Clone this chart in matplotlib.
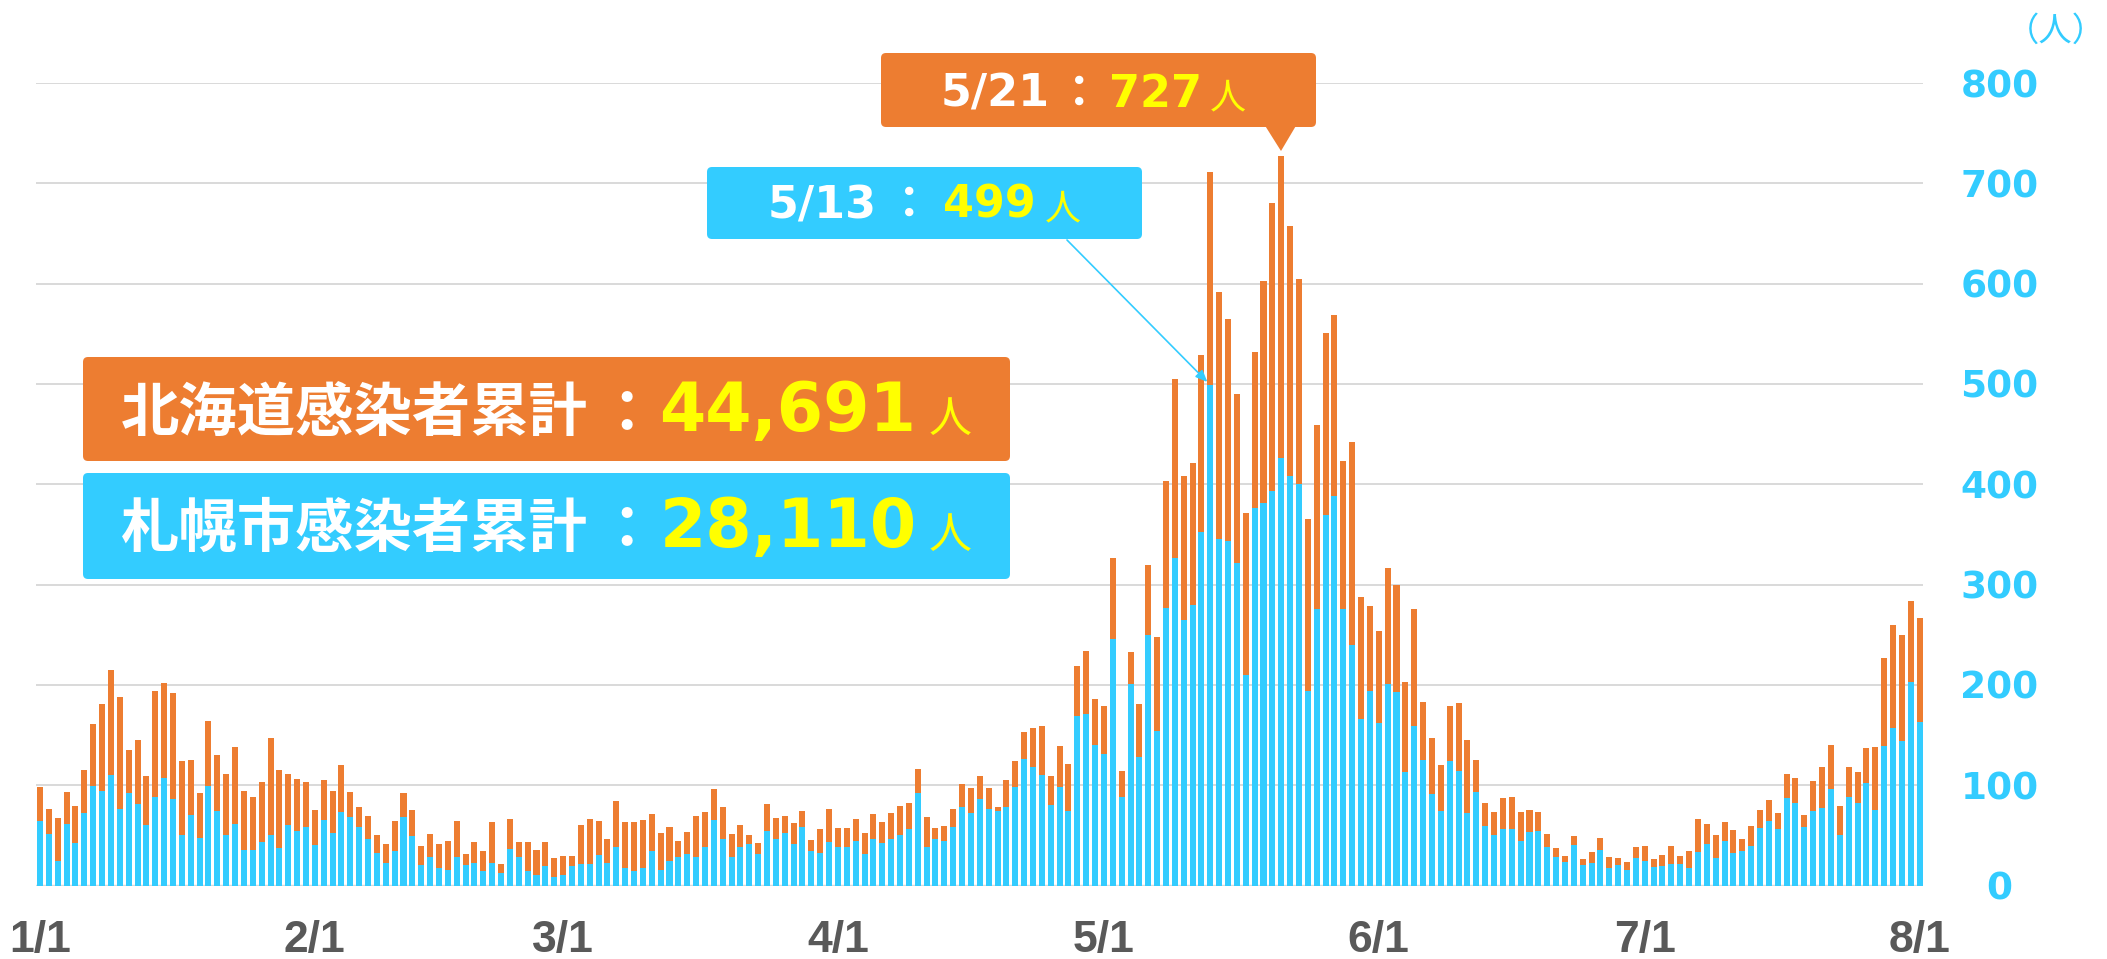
import numpy as np
import pandas as pd
import matplotlib

matplotlib.use("Agg")
import matplotlib.pyplot as plt
from matplotlib.patches import FancyBboxPatch, Polygon


# Daily new cases, 2021-01-01 .. 2021-08-01
HOKKAIDO_TOTAL = [
    # Jan
    98, 76, 67, 93, 79, 115, 161, 181, 215, 188,
    135, 145, 109, 194, 202, 192, 124, 125, 92, 164,
    130, 111, 138, 94, 88, 103, 147, 115, 111, 106, 103,
    # Feb
    75, 105, 94, 120, 93, 78, 69, 50, 41, 64,
    92, 75, 39, 51, 41, 44, 64, 31, 43, 34,
    63, 21, 66, 43, 43, 35, 43, 27,
    # Mar
    29, 29, 60, 66, 64, 46, 84, 63, 63, 65,
    71, 52, 58, 44, 53, 69, 73, 96, 78, 51,
    60, 50, 42, 81, 67, 69, 62, 74, 45, 56, 76,
    # Apr
    57, 57, 66, 52, 71, 63, 72, 79, 82, 116,
    68, 57, 59, 76, 101, 97, 109, 97, 78, 105,
    124, 153, 157, 159, 109, 139, 121, 219, 234, 186,
    # May
    179, 326, 114, 233, 181, 320, 248, 403, 505, 408,
    421, 529, 711, 592, 565, 490, 371, 532, 603, 680,
    727, 657, 605, 365, 459, 551, 569, 423, 442, 288, 279,
    # Jun
    254, 317, 300, 203, 276, 183, 147, 120, 179, 182,
    145, 125, 82, 73, 87, 88, 73, 75, 73, 51,
    37, 29, 49, 26, 33, 47, 28, 27, 23, 38,
    # Jul
    39, 26, 30, 39, 29, 34, 66, 61, 50, 63,
    55, 46, 59, 75, 85, 72, 111, 107, 70, 104,
    118, 140, 79, 118, 113, 137, 138, 227, 260, 250, 284,
    # Aug
    267,
]

SAPPORO = [
    # Jan
    64, 51, 24, 61, 42, 72, 99, 94, 110, 76,
    92, 81, 60, 88, 107, 86, 50, 70, 47, 99,
    74, 50, 61, 35, 35, 43, 50, 37, 60, 54, 58,
    # Feb
    40, 65, 52, 73, 68, 58, 46, 32, 22, 34,
    68, 49, 20, 28, 17, 15, 28, 20, 22, 14,
    22, 12, 36, 28, 14, 10, 19, 8,
    # Mar
    10, 19, 21, 21, 30, 22, 38, 17, 14, 17,
    34, 15, 24, 28, 31, 28, 38, 65, 46, 28,
    38, 41, 31, 54, 46, 52, 41, 58, 34, 32, 43,
    # Apr
    38, 38, 44, 31, 46, 42, 46, 50, 56, 92,
    38, 46, 44, 58, 78, 72, 86, 76, 74, 78,
    98, 126, 118, 110, 80, 98, 74, 169, 171, 140,
    # May
    131, 246, 88, 201, 128, 250, 154, 277, 326, 265,
    280, 352, 499, 345, 343, 321, 210, 376, 381, 393,
    426, 408, 400, 194, 276, 369, 388, 276, 240, 166, 194,
    # Jun
    162, 201, 193, 113, 159, 125, 91, 74, 124, 114,
    72, 93, 59, 50, 56, 56, 44, 53, 54, 38,
    28, 23, 40, 20, 22, 35, 17, 20, 15, 27,
    # Jul
    24, 18, 19, 21, 21, 17, 33, 41, 27, 44,
    32, 34, 39, 57, 64, 56, 87, 82, 58, 74,
    77, 96, 50, 88, 82, 102, 75, 139, 157, 144, 203,
    # Aug
    163,
]

START_DATE = "2021-01-01"
END_DATE = "2021-08-01"
Y_TICKS = [0, 100, 200, 300, 400, 500, 600, 700, 800]

HOKKAIDO_LABEL = "北海道感染者累計"
HOKKAIDO_CUM = "44,691"
SAPPORO_LABEL = "札幌市感染者累計"
SAPPORO_CUM = "28,110"

PEAK_HOKKAIDO_DATE = "5/21"
PEAK_HOKKAIDO_VALUE = 727
PEAK_SAPPORO_DATE = "5/13"
PEAK_SAPPORO_VALUE = 499

CYAN = "#33CCFF"
ORANGE = "#ED7D31"
YELLOW = "#FFFF00"
GRID = "#D9D9D9"
AXIS_TEXT = "#595959"

W, H = 2107, 959
CJK = ["Noto Sans CJK JP", "DejaVu Sans"]
NUM = "DejaVu Sans"


def to_in(xp, yp):
    """pixel coords (origin top-left) -> inches for fig.dpi_scale_trans"""
    return xp / 100, (H - yp) / 100


def add_box(fig, x0, y0, x1, y1, color):
    bx, by = to_in(x0, y1)
    patch = FancyBboxPatch(
        (bx, by), (x1 - x0) / 100, (y1 - y0) / 100,
        boxstyle="round,pad=0,rounding_size=0.05",
        transform=fig.dpi_scale_trans,
        facecolor=color, edgecolor="none", zorder=5,
    )
    fig.add_artist(patch)


def put(fig, xp, yp, s, size, color, family, weight="normal"):
    fig.text(*to_in(xp, yp), s, transform=fig.dpi_scale_trans,
             ha="center", va="baseline", fontsize=size, color=color,
             family=family, fontweight=weight, zorder=6)


def plot_chart(out_path="out.png"):
    dates = pd.date_range(START_DATE, END_DATE, freq="D")
    total = np.array(HOKKAIDO_TOTAL)
    sapporo = np.array(SAPPORO)
    others = total - sapporo
    x = np.arange(len(dates))

    fig = plt.figure(figsize=(W / 100, H / 100), dpi=100)
    fig.patch.set_facecolor("white")

    # axes placed so that 1/1 and 8/1 land where they do in the original
    step = 8.866
    ax = fig.add_axes([36 / W, (H - 885.5) / H, (1923 - 36) / W, (885.5 - 83) / H])
    ax.set_xlim((36 - 40) / step, (1923 - 40) / step)
    ax.set_ylim(0, 800)

    ax.bar(x, sapporo, width=0.68, color=CYAN, linewidth=0, zorder=2)
    ax.bar(x, others, bottom=sapporo, width=0.68, color=ORANGE, linewidth=0, zorder=2)

    for s in ax.spines.values():
        s.set_visible(False)
    ax.grid(axis="y", color=GRID, lw=1.4, zorder=0)
    ax.axhline(0, color=GRID, lw=2.5, zorder=1)
    ax.set_axisbelow(True)

    # y axis on the right, centred labels
    ax.yaxis.tick_right()
    ax.set_yticks(Y_TICKS, labels=[str(v) for v in Y_TICKS],
                  fontsize=27, fontweight="bold", color=CYAN,
                  fontfamily=NUM, ha="center")
    ax.tick_params(axis="y", length=0, pad=55)

    # month starts on x axis
    month_idx = [i for i, d in enumerate(dates) if d.day == 1]
    month_lbl = [f"{dates[i].month}/1" for i in month_idx]
    ax.set_xticks(month_idx, labels=month_lbl, fontsize=32, fontweight="bold",
                  color=AXIS_TEXT, fontfamily="Liberation Sans")
    ax.tick_params(axis="x", length=0, pad=25)

    # unit
    fig.text(*to_in(2056, 31), "（人）", transform=fig.dpi_scale_trans,
             ha="center", va="center", fontsize=24, color=CYAN, family=CJK)

    # cumulative boxes
    add_box(fig, 83, 357, 1010, 461, ORANGE)
    put(fig, 354, 431, HOKKAIDO_LABEL, 42, "white", CJK, "bold")
    put(fig, 627, 431, "：", 42, "white", CJK, "bold")
    put(fig, 788, 431, HOKKAIDO_CUM, 48, YELLOW, NUM, "bold")
    put(fig, 950, 432, "人", 31, YELLOW, CJK)

    add_box(fig, 83, 473, 1010, 579, CYAN)
    put(fig, 354, 547, SAPPORO_LABEL, 42, "white", CJK, "bold")
    put(fig, 627, 547, "：", 42, "white", CJK, "bold")
    put(fig, 788, 547, SAPPORO_CUM, 48, YELLOW, NUM, "bold")
    put(fig, 950, 548, "人", 31, YELLOW, CJK)

    # peak callout: Hokkaido
    add_box(fig, 881, 53, 1316, 127, ORANGE)
    tri = Polygon([to_in(1264, 124), to_in(1297, 124), to_in(1281, 151)],
                  closed=True, transform=fig.dpi_scale_trans,
                  facecolor=ORANGE, edgecolor="none", zorder=5)
    fig.add_artist(tri)
    put(fig, 995, 107, PEAK_HOKKAIDO_DATE, 32, "white", NUM, "bold")
    put(fig, 1079, 107, "：", 32, "white", CJK, "bold")
    put(fig, 1156, 107, str(PEAK_HOKKAIDO_VALUE), 32, YELLOW, NUM, "bold")
    put(fig, 1228, 108, "人", 26, YELLOW, CJK)

    # peak callout: Sapporo
    add_box(fig, 707, 167, 1142, 239, CYAN)
    put(fig, 822, 218, PEAK_SAPPORO_DATE, 32, "white", NUM, "bold")
    put(fig, 909, 218, "：", 32, "white", CJK, "bold")
    put(fig, 989, 218, str(PEAK_SAPPORO_VALUE), 32, YELLOW, NUM, "bold")
    put(fig, 1063, 219, "人", 26, YELLOW, CJK)

    peak_i = int(np.argmax(sapporo))
    ax.annotate(
        "", xy=(peak_i, sapporo[peak_i]), xycoords="data",
        xytext=to_in(1067, 240), textcoords=fig.dpi_scale_trans,
        arrowprops=dict(arrowstyle="-|>,head_length=0.7,head_width=0.3",
                        color=CYAN, lw=1.2, shrinkA=0, shrinkB=3),
        annotation_clip=False, zorder=7,
    )

    fig.savefig(out_path, dpi=100)
    plt.close(fig)


if __name__ == "__main__":
    plot_chart("out.png")
